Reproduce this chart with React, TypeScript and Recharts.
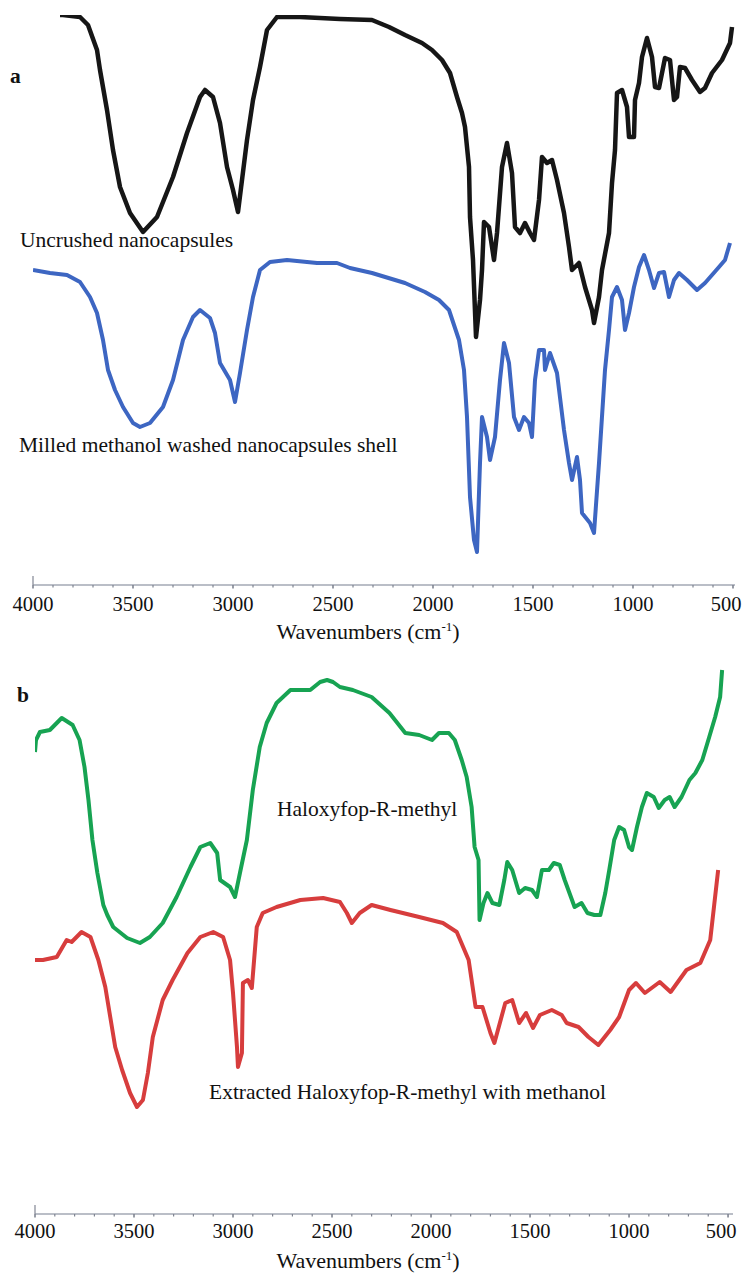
import React from "react";
import { LineChart, Line, XAxis, YAxis } from "recharts";

// FTIR spectra, transmittance in arbitrary units

// panel a
const uncrushedWn = [3865, 3850, 3765, 3725, 3680, 3665, 3630, 3600, 3565, 3515, 3450, 3380, 3300, 3230, 3165, 3140, 3100, 3065, 3030, 3000, 2975, 2930, 2900, 2865, 2830, 2780, 2665, 2465, 2305, 2220, 2140, 2055, 2005, 1955, 1915, 1880, 1855, 1840, 1820, 1815, 1800, 1785, 1765, 1755, 1745, 1720, 1695, 1680, 1655, 1630, 1605, 1590, 1565, 1540, 1515, 1495, 1470, 1455, 1430, 1405, 1380, 1345, 1320, 1305, 1270, 1240, 1205, 1195, 1170, 1155, 1120, 1105, 1090, 1080, 1055, 1030, 1020, 995, 990, 970, 955, 930, 905, 890, 870, 840, 815, 795, 780, 765, 740, 705, 665, 640, 605, 555, 515, 505]
const uncrushedT = [570, 570, 568, 560, 535, 515, 475, 435, 398, 372, 353, 368, 408, 452, 488, 495, 488, 462, 418, 395, 373, 445, 485, 518, 555, 568, 568, 566, 565, 558, 550, 542, 535, 525, 512, 488, 472, 458, 418, 368, 325, 248, 285, 315, 363, 358, 325, 352, 418, 442, 412, 358, 352, 362, 352, 345, 385, 428, 422, 425, 405, 372, 338, 315, 322, 298, 275, 262, 288, 315, 352, 402, 435, 492, 495, 478, 448, 448, 485, 502, 528, 547, 528, 498, 497, 527, 525, 485, 488, 518, 517, 505, 493, 497, 512, 525, 542, 558]

const milledWn = [4000, 3915, 3830, 3765, 3715, 3680, 3650, 3625, 3590, 3550, 3500, 3465, 3415, 3350, 3300, 3250, 3200, 3165, 3115, 3090, 3065, 3015, 2990, 2965, 2930, 2900, 2865, 2815, 2730, 2580, 2480, 2415, 2305, 2140, 2040, 1970, 1920, 1870, 1845, 1830, 1815, 1795, 1780, 1765, 1755, 1730, 1715, 1690, 1665, 1645, 1620, 1595, 1570, 1545, 1520, 1505, 1490, 1470, 1445, 1440, 1415, 1380, 1345, 1320, 1305, 1280, 1265, 1255, 1215, 1195, 1170, 1140, 1120, 1105, 1080, 1055, 1040, 1020, 995, 970, 945, 920, 895, 870, 845, 820, 795, 770, 730, 680, 640, 570, 540, 515]
const milledT = [315, 312, 310, 303, 288, 272, 245, 215, 195, 178, 162, 158, 162, 178, 205, 245, 268, 275, 267, 252, 222, 205, 183, 212, 255, 288, 315, 323, 325, 322, 322, 317, 312, 302, 293, 285, 275, 245, 215, 168, 88, 45, 33, 122, 168, 148, 125, 148, 205, 242, 222, 168, 155, 168, 162, 148, 205, 235, 235, 215, 232, 212, 155, 122, 105, 128, 105, 72, 62, 52, 122, 215, 255, 288, 298, 285, 255, 272, 298, 318, 330, 315, 297, 312, 313, 288, 305, 312, 305, 295, 302, 318, 325, 342]

// panel b
const haloxyfopWn = [4000, 3995, 3975, 3925, 3865, 3810, 3775, 3750, 3730, 3710, 3685, 3655, 3635, 3605, 3535, 3470, 3420, 3355, 3285, 3215, 3165, 3115, 3080, 3065, 3015, 2990, 2965, 2930, 2900, 2865, 2830, 2780, 2710, 2610, 2560, 2525, 2495, 2460, 2395, 2300, 2210, 2130, 2060, 1995, 1960, 1910, 1880, 1845, 1820, 1795, 1780, 1760, 1755, 1735, 1715, 1690, 1655, 1630, 1615, 1590, 1555, 1525, 1490, 1465, 1440, 1405, 1380, 1350, 1325, 1275, 1240, 1210, 1175, 1145, 1120, 1100, 1075, 1050, 1025, 1000, 985, 960, 935, 910, 875, 850, 820, 795, 770, 735, 695, 665, 630, 595, 565, 540, 530]
const haloxyfopT = [462, 474, 482, 484, 496, 489, 474, 447, 414, 374, 341, 309, 299, 287, 276, 271, 277, 291, 317, 347, 367, 371, 361, 334, 327, 317, 341, 374, 424, 467, 491, 511, 524, 524, 532, 534, 532, 527, 524, 517, 501, 481, 479, 474, 481, 481, 474, 454, 437, 407, 367, 354, 294, 311, 321, 311, 309, 334, 352, 344, 321, 326, 324, 317, 344, 344, 351, 349, 334, 307, 311, 301, 299, 299, 321, 344, 374, 387, 384, 367, 364, 387, 407, 421, 417, 406, 414, 417, 407, 417, 434, 441, 454, 477, 497, 517, 544]

const extractedWn = [4000, 3960, 3890, 3840, 3815, 3765, 3720, 3680, 3645, 3620, 3595, 3560, 3520, 3485, 3455, 3430, 3405, 3355, 3305, 3230, 3165, 3100, 3050, 3015, 3000, 2980, 2975, 2955, 2950, 2925, 2905, 2880, 2850, 2780, 2660, 2545, 2460, 2425, 2400, 2360, 2300, 2205, 2060, 1940, 1870, 1810, 1775, 1740, 1700, 1680, 1625, 1590, 1555, 1520, 1485, 1450, 1390, 1340, 1315, 1255, 1205, 1155, 1095, 1050, 1000, 965, 920, 845, 790, 710, 640, 590, 570, 550]
const extractedT = [254, 254, 257, 274, 272, 282, 277, 254, 227, 197, 167, 144, 121, 107, 114, 141, 177, 214, 234, 261, 277, 282, 277, 254, 221, 167, 147, 161, 231, 234, 226, 287, 301, 307, 314, 316, 312, 301, 291, 301, 309, 304, 297, 291, 282, 254, 207, 207, 181, 171, 211, 214, 191, 201, 186, 199, 204, 199, 191, 187, 177, 169, 184, 197, 224, 231, 221, 232, 222, 244, 251, 274, 309, 344]

const wnTicks = [500, 600, 700, 800, 900, 1000, 1100, 1200, 1300, 1400, 1500, 1600, 1700, 1800, 1900, 2000, 2100, 2200, 2300, 2400, 2500, 2600, 2700, 2800, 2900, 3000, 3100, 3200, 3300, 3400, 3500, 3600, 3700, 3800, 3900, 4000]

const zip = (wn: number[], t: number[]) => wn.map((w, i) => ({ wn: w, t: t[i] }))

const serif = '"Liberation Serif", "Times New Roman", Times, serif'
const axisColor = "#a3a8b4"

const WnTick = (labelDy: number) => (props: any) => {
  const { x, y, payload } = props
  const v = payload.value
  const major = v % 500 === 0
  // the last label sits a little inside the right edge, as in the figure
  const lx = v === 500 ? x - 7 : x
  return (
    <g>
      {v === 4000 && <line x1={x} x2={x} y1={y - 9} y2={y} stroke="#8c909c" strokeWidth={1.3} />}
      <line x1={x} x2={x} y1={y} y2={y + (major ? 3.5 : 2.5)} stroke="#7f8491" strokeWidth={major ? 1.6 : 1.2} />
      {major && (
        <text x={lx} y={y + labelDy} textAnchor="middle" fontFamily={serif} fontSize={20.5} style={{ fontFamily: serif }} fill="#111">
          {v}
        </text>
      )}
    </g>
  )
}

const XLabel = ({ y }: { y: number }) => (
  <text x={368} y={y} textAnchor="middle" fontFamily={serif} fontSize={22} style={{ fontFamily: serif }} fill="#111">
    Wavenumbers (cm<tspan fontSize={13} dy={-8}>-1</tspan><tspan dy={8}>)</tspan>
  </text>
)

export default function App() {
  return (
    <div style={{ position: "absolute", left: 0, top: 0, width: 743, height: 1277, background: "#fff", fontFamily: serif }}>
      <div style={{ position: "absolute", left: 0, top: 0 }}>
        <LineChart width={743} height={660} margin={{ top: 15, right: 8, left: 33, bottom: 15 }}>
          <XAxis
            dataKey="wn"
            type="number"
            domain={[490, 4000]}
            reversed
            allowDataOverflow
            ticks={wnTicks}
            interval={0}
            height={60}
            tickLine={false}
            tickSize={0}
            tickMargin={0}
            axisLine={{ stroke: axisColor, strokeWidth: 1.5 }}
            tick={WnTick(26)}
          />
          <YAxis hide domain={[0, 570]} allowDataOverflow />
          <Line data={zip(uncrushedWn, uncrushedT)} dataKey="t" stroke="#161616" strokeWidth={4.5} dot={false} strokeLinejoin="round" isAnimationActive={false} />
          <Line data={zip(milledWn, milledT)} dataKey="t" stroke="#3d66c2" strokeWidth={4} dot={false} strokeLinejoin="round" isAnimationActive={false} />
        </LineChart>
      </div>
      <div style={{ position: "absolute", left: 0, top: 640 }}>
        <LineChart width={743} height={637} margin={{ top: 20, right: 10, left: 35, bottom: 8 }}>
          <XAxis
            dataKey="wn"
            type="number"
            domain={[475, 4000]}
            reversed
            allowDataOverflow
            ticks={wnTicks}
            interval={0}
            height={55}
            tickLine={false}
            tickSize={0}
            tickMargin={0}
            axisLine={{ stroke: axisColor, strokeWidth: 1.5 }}
            tick={WnTick(24)}
          />
          <YAxis hide domain={[0, 554]} allowDataOverflow />
          <Line data={zip(haloxyfopWn, haloxyfopT)} dataKey="t" stroke="#17a352" strokeWidth={4} dot={false} strokeLinejoin="round" isAnimationActive={false} />
          <Line data={zip(extractedWn, extractedT)} dataKey="t" stroke="#d73d3d" strokeWidth={4} dot={false} strokeLinejoin="round" isAnimationActive={false} />
        </LineChart>
      </div>
      <svg width={743} height={1277} style={{ position: "absolute", left: 0, top: 0, pointerEvents: "none" }}>
        <g fontFamily={serif} fontSize={21.5} style={{ fontFamily: serif, fontSize: 21.5 }} fill="#111">
          <text x={10} y={83} fontWeight="bold">a</text>
          <text x={20} y={247}>Uncrushed nanocapsules</text>
          <text x={19} y={452}>Milled methanol washed nanocapsules shell</text>
          <text x={17} y={702} fontWeight="bold">b</text>
          <text x={277} y={816}>Haloxyfop-R-methyl</text>
          <text x={209} y={1099}>Extracted Haloxyfop-R-methyl with methanol</text>
        </g>
        <XLabel y={639} />
        <XLabel y={1268} />
      </svg>
    </div>
  )
}
